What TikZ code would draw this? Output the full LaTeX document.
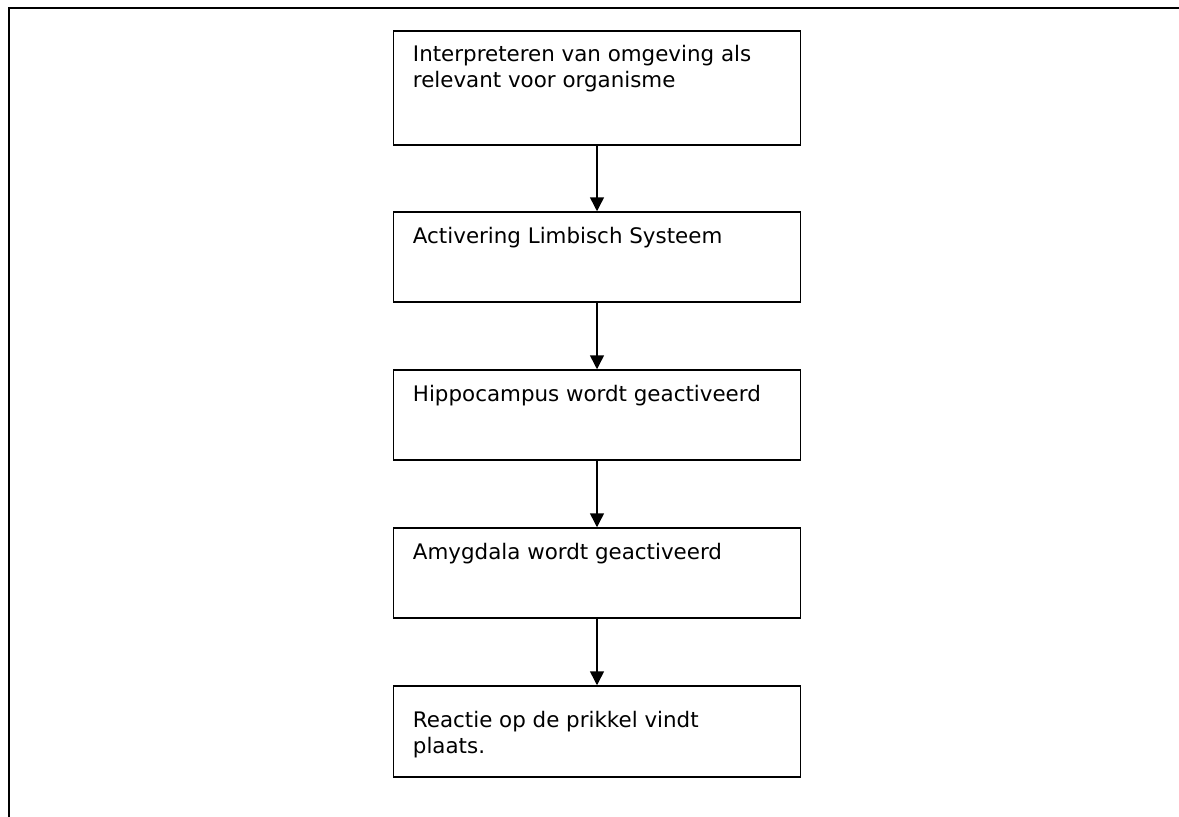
\documentclass[tikz,border=0pt]{standalone}
\usepackage{fontspec}
\setmainfont{DejaVu Sans}
\usetikzlibrary{arrows.meta}

\begin{document}
\begin{tikzpicture}[x=1pt,y=-1pt,
  stepbox/.style={draw=black, line width=1.5pt, rectangle, inner sep=0pt,
                  minimum width=407pt},
  steptext/.style={anchor=base west, inner sep=0pt,
                   font=\fontsize{21.4}{26}\selectfont},
  flow/.style={draw=black, line width=1.5pt,
               -{Triangle[width=14pt,length=14pt]}},
  frame/.style={draw=black, line width=2pt}
]
\useasboundingbox (0,0) rectangle (1179,817);

% page frame: top and left rules
\coordinate (ftl) at (8.5,8);
\coordinate (ftr) at (1179,8);
\coordinate (fbl) at (8.5,817);
\draw[frame] (ftr) -- (ftl) -- (fbl);

% process steps
\node[stepbox, minimum height=114pt] (s1) at (597,88) {};
\node[stepbox, minimum height=90pt]  (s2) at (597,257) {};
\node[stepbox, minimum height=90pt]  (s3) at (597,415) {};
\node[stepbox, minimum height=90pt]  (s4) at (597,573) {};
\node[stepbox, minimum height=91pt]  (s5) at (597,731.5) {};

\node[steptext] (t1) at ([xshift=20pt,yshift=-31pt]s1.north west)
  {\begin{tabular}[t]{@{}l@{}}Interpreteren van omgeving als\\relevant voor organisme\end{tabular}};
\node[steptext] (t2) at ([xshift=20pt,yshift=-32pt]s2.north west) {Activering Limbisch Systeem};
\node[steptext] (t3) at ([xshift=20pt,yshift=-32pt]s3.north west) {Hippocampus wordt geactiveerd};
\node[steptext] (t4) at ([xshift=20pt,yshift=-32pt]s4.north west) {Amygdala wordt geactiveerd};
\node[steptext] (t5) at ([xshift=20pt,yshift=-42pt]s5.north west)
  {\begin{tabular}[t]{@{}l@{}}Reactie op de prikkel vindt\\plaats.\end{tabular}};

% connectors
\draw[flow] (s1.south) -- (s2.north);
\draw[flow] (s2.south) -- (s3.north);
\draw[flow] (s3.south) -- (s4.north);
\draw[flow] (s4.south) -- (s5.north);
\end{tikzpicture}
\end{document}
